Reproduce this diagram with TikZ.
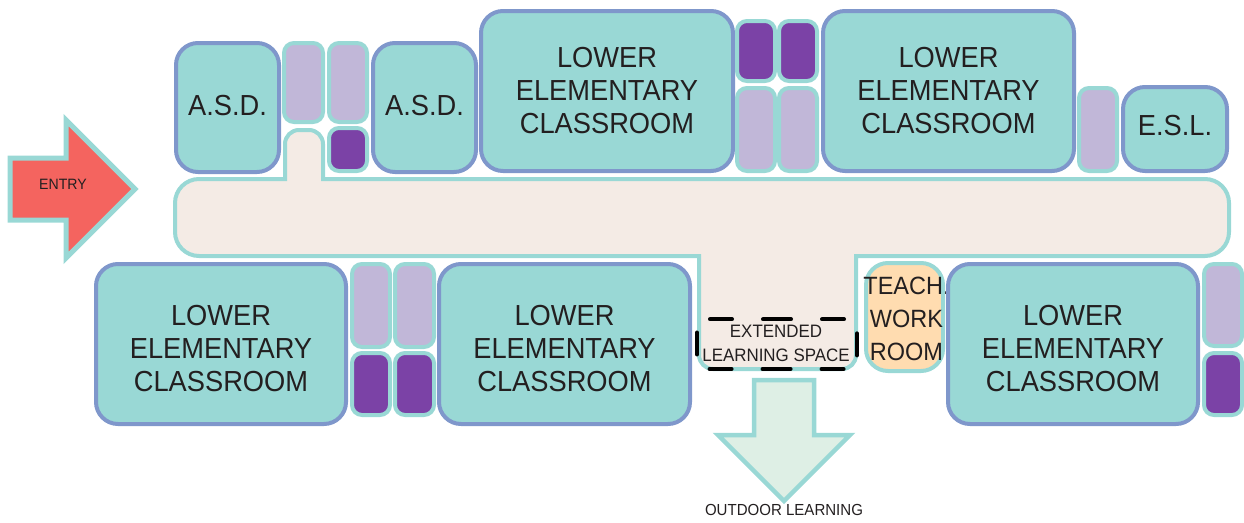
\documentclass[tikz,border=0pt]{standalone}
\usepackage{fontspec}
\setmainfont{Liberation Sans}[FakeStretch=0.94]

\definecolor{roomfill}{HTML}{99D8D5}
\definecolor{roomline}{HTML}{7F97CB}
\definecolor{lavender}{HTML}{C1B7D8}
\definecolor{violet}{HTML}{7B42A6}
\definecolor{hallfill}{HTML}{F4EBE5}
\definecolor{entryred}{HTML}{F4645F}
\definecolor{outdoor}{HTML}{DEEFE5}
\definecolor{teachfill}{HTML}{FFDCB0}
\definecolor{inktext}{HTML}{231F20}

\begin{document}
\begin{tikzpicture}
      [x = 1pt, y = -1pt,
      text = inktext,
      room/.style= {
         draw = roomline,
         fill = roomfill,
         line width = 4,
         rounded corners = 22
      },
      closet/.style= {
         draw = roomfill,
         fill = lavender,
         line width = 4,
         rounded corners = 10
      },
      toilet/.style= {
         closet,
         fill = violet
      },
      label/.style= {
         align = center,
         font = \fontsize{29}{33}\selectfont,
         inner sep = 0pt
      },
      small/.style= {
         align = center,
         font = \fontsize{18}{24}\selectfont,
         inner sep = 0pt
      }]
      \useasboundingbox (0, 0) rectangle (1244, 522);

      % top row
      \draw[room] (176, 43) rectangle (279, 172) node[midway, label, yshift = 2pt] (asdleft) {A.S.D.};
      \draw[closet] (284, 43) rectangle (323, 122);
      \draw[closet] (329, 43) rectangle (367, 122);
      \draw[toilet] (329, 128) rectangle (367, 171);
      \draw[room] (373, 43) rectangle (476, 172) node[midway, label, yshift = 2pt] (asdright) {A.S.D.};
      \draw[room] (481, 11) rectangle (733, 171) node[midway, label] (topone) {LOWER\\ELEMENTARY\\CLASSROOM};
      \draw[toilet] (737, 21) rectangle (775, 81);
      \draw[toilet] (779, 21) rectangle (817, 81);
      \draw[closet] (737, 88) rectangle (775, 171);
      \draw[closet] (779, 88) rectangle (817, 171);
      \draw[room] (823, 11) rectangle (1074, 171) node[midway, label] (toptwo) {LOWER\\ELEMENTARY\\CLASSROOM};
      \draw[closet] (1079, 88) rectangle (1117, 171);
      \draw[room] (1123, 87) rectangle (1227, 171) node[midway, label, yshift = 3pt] (esl) {E.S.L.};

      % corridor
      \draw[fill = hallfill, draw = roomfill, line width = 4]
         (285, 179)
         [rounded corners = 14] -- (285, 130) -- (323, 130)
         [sharp corners] -- (323, 179)
         [rounded corners = 24] -- (1229, 179) -- (1229, 256)
         [sharp corners] -- (856, 256)
         [rounded corners = 14] -- (856, 369) -- (699, 369)
         [sharp corners] -- (699, 256)
         [rounded corners = 24] -- (175, 256) -- (175, 179)
         [sharp corners] -- cycle;

      % bottom row
      \draw[room] (96, 264) rectangle (346, 424) node[midway, label, yshift = -5pt] (botone) {LOWER\\ELEMENTARY\\CLASSROOM};
      \draw[closet] (352, 264) rectangle (390, 347);
      \draw[closet] (395, 264) rectangle (434, 347);
      \draw[toilet] (352, 353) rectangle (390, 415);
      \draw[toilet] (395, 353) rectangle (434, 415);
      \draw[room] (439, 264) rectangle (690, 424) node[midway, label, yshift = -5pt] (bottwo) {LOWER\\ELEMENTARY\\CLASSROOM};
      \draw[room, draw = roomfill, fill = teachfill] (866, 263) rectangle (943, 371);
      \node[label, font = \fontsize{25}{33}\selectfont] (teach) at (906.5, 319) {TEACH.\\WORK\\ROOM};
      \draw[room] (948, 264) rectangle (1198, 424) node[midway, label, yshift = -5pt] (botthree) {LOWER\\ELEMENTARY\\CLASSROOM};
      \draw[closet] (1204, 264) rectangle (1242, 346);
      \draw[toilet] (1204, 353) rectangle (1242, 415);

      % extended learning space
      \draw[line width = 4, line cap = round, rounded corners = 12,
         dash pattern = on 22 off 31 on 28 off 31 on 22 off 21.8 on 22 off 21.8
            on 22 off 31 on 28 off 31 on 22 off 21.8 on 22 off 21.8]
         (710, 319.3) -- (857, 319.3) -- (857, 369) -- (697, 369) -- (697, 319.3) -- (710, 319.3);
      \node[small] (extended) at (776, 343) {EXTENDED\\LEARNING SPACE};

      % arrows
      \draw[fill = entryred, draw = roomfill, line width = 5, miter limit = 10]
         (10, 158) -- (66, 158) -- (66, 120) -- (135, 189) -- (66, 258) -- (66, 220) -- (10, 220) -- cycle;
      \node[small, font = \fontsize{15}{18}\selectfont] (entry) at (63, 184) {ENTRY};
      \draw[fill = outdoor, draw = roomfill, line width = 4.5, miter limit = 10]
         (754, 380) -- (814, 380) -- (814, 435) -- (850, 435) -- (784, 501) -- (718, 435) -- (754, 435) -- cycle;
      \node[small, font = \fontsize{16}{18}\selectfont] (outdoorlearning) at (784, 510) {OUTDOOR LEARNING};
   \end{tikzpicture}
\end{document}
